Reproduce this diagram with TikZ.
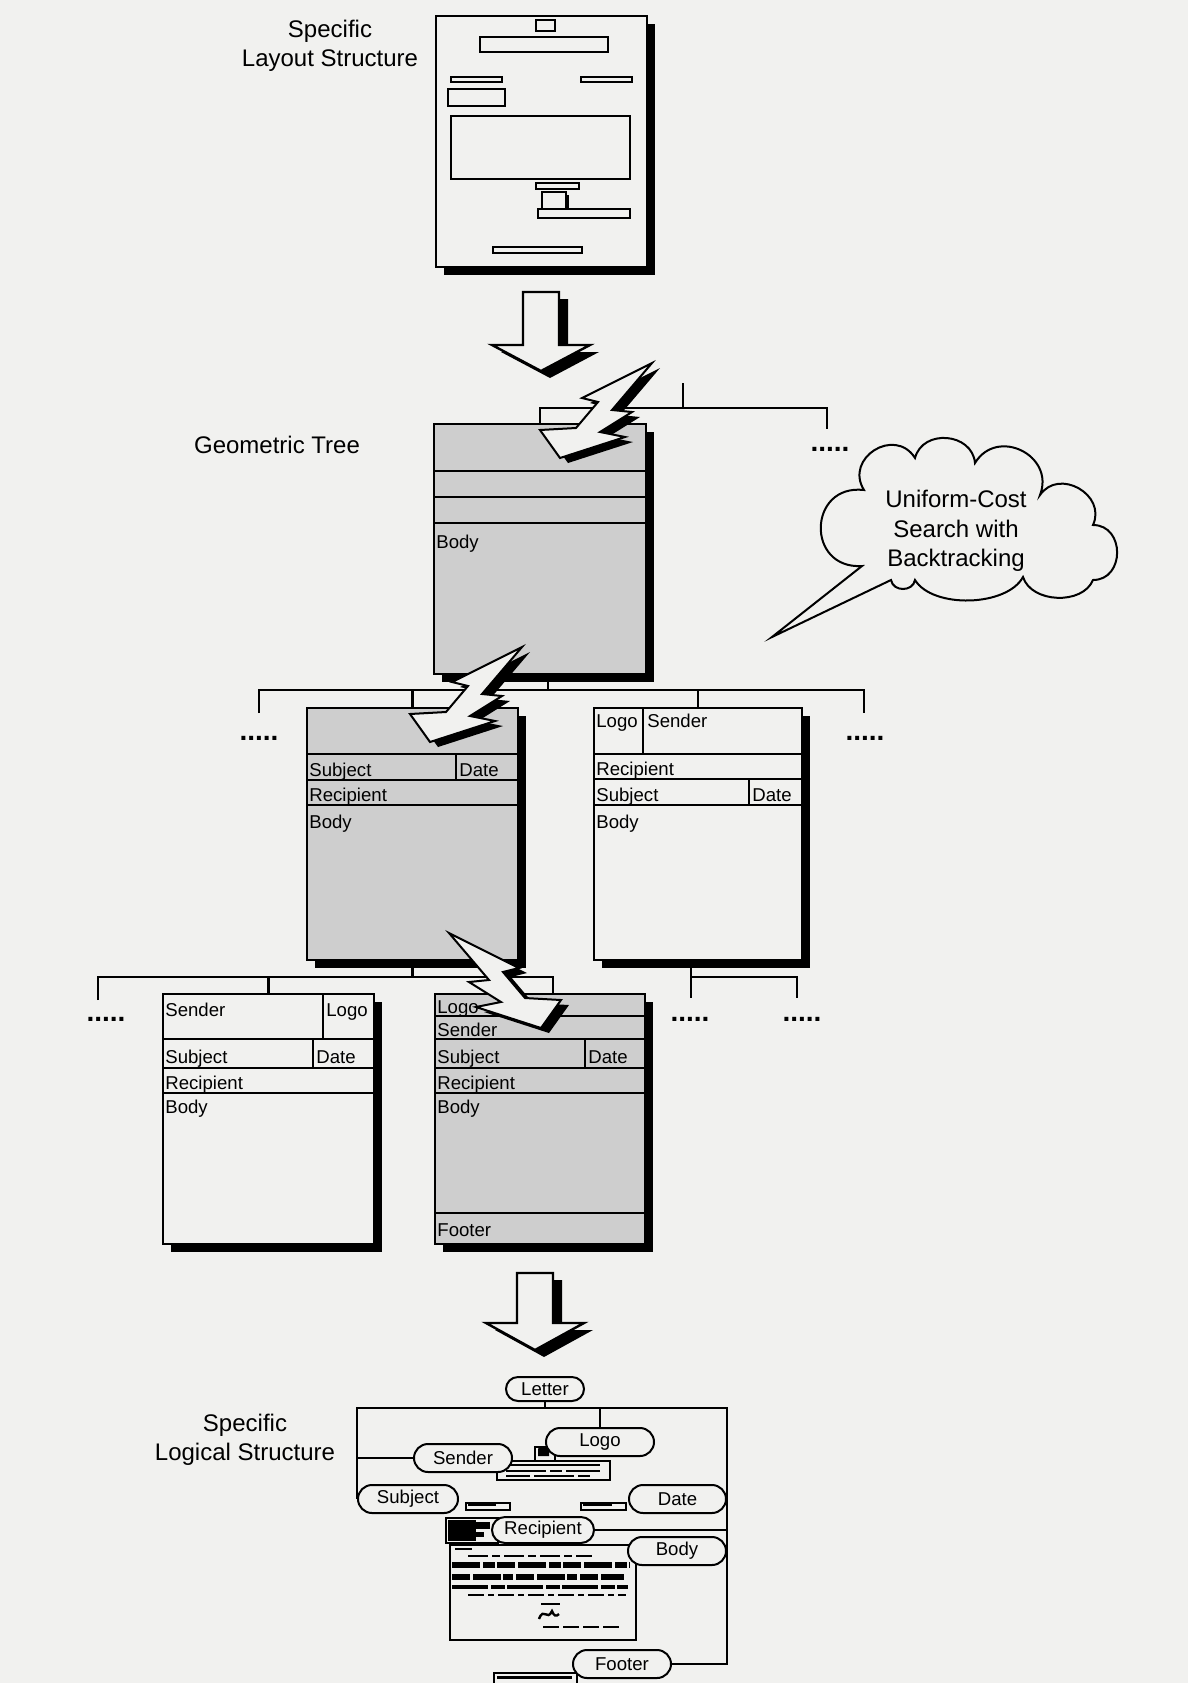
\documentclass[tikz,border=0pt]{standalone}
\usepackage{fontspec}
\setmainfont{Liberation Sans}
\usetikzlibrary{calc,shadows}
\definecolor{bg}{RGB}{241,241,239}
\definecolor{shade}{RGB}{206,206,206}
\newcommand{\boltshape}{(92,-95) -- (52,-48) -- (72,-46) -- (40,-26) -- (65,-21) -- (0,0) -- (-20,-28) -- (16,-30) -- (38,-56) -- (22,-60) -- cycle}
\begin{document}
\begin{tikzpicture}[x=0.5pt,y=-0.5pt,
  every node/.style={inner sep=0pt},
  docbox/.style={draw, line width=1pt, anchor=north west, fill=bg,
     general shadow={fill=black, shadow xshift=4pt, shadow yshift=-4pt}},
  shadedbox/.style={docbox, fill=shade},
  cell/.style={line width=1pt},
  lbl/.style={anchor=base west, font=\fontsize{9.3}{10}\selectfont},
  title/.style={align=center, font=\fontsize{12}{14.5}\selectfont},
  tree/.style={line width=1.4pt},
  ltree/.style={line width=1.2pt},
  dots/.style={anchor=base, font=\fontsize{14}{14}\selectfont\bfseries},
  bubble/.style={draw, line width=1pt, rounded corners=7pt, minimum height=14pt, fill=bg, font=\fontsize{9.3}{10}\selectfont},
  mini/.style={line width=0.6pt},
  inner/.style={line width=0.7pt},
  boltst/.style={fill=bg, draw=black, line width=1pt, line join=miter},
  arrowst/.style={fill=bg, draw=black, line width=1.2pt, line join=miter},
]
\fill[bg] (0,0) rectangle (1188,1683);
\useasboundingbox (0,0) rectangle (1188,1683);

% ---------- Specific layout structure ----------
\node[title] (tlayout) at (330,46) {Specific\\Layout Structure};
\node[docbox, minimum width=105.5pt, minimum height=125.5pt] (page) at (435,15) {};
\draw[inner] (536,20) rectangle (555,31);
\draw[inner] (480,37) rectangle (608,52);
\draw[inner] (451,77) rectangle (502,82);
\draw[inner] (581,77) rectangle (632,82);
\draw[inner] (448,89) rectangle (505,106);
\draw[inner] (451,116) rectangle (630,179);
\draw[inner] (536,183) rectangle (579,189);
\fill (545,195) rectangle (569,212);
\draw[inner, fill=bg] (542,192) rectangle (566,209);
\draw[inner, fill=bg] (538,209) rectangle (630,218);
\draw[inner] (493,247) rectangle (582,253);

% arrow 1
\fill (532,299) -- (568,299) -- (568,352) -- (599,352) -- (550,378) -- (501,352) -- (532,352) -- cycle;
\draw[arrowst] (523,292) -- (559,292) -- (559,345) -- (590,345) -- (541,371) -- (492,345) -- (523,345) -- cycle;

% ---------- Geometric tree ----------
\node[title] (tgeom) at (277,445) {Geometric Tree};

\node[shadedbox, minimum width=106pt, minimum height=125pt] (root) at (433,423) {};
\draw[cell] (433,471) -- (645,471);
\draw[cell] (433,497) -- (645,497);
\draw[cell] (433,523) -- (645,523);
\node[lbl] (rootbody) at (436,548) {Body};

\coordinate (j1) at (683,408);
\coordinate (j1top) at (683,383);
\coordinate (dAtop) at (827,429);
\draw[tree] (j1top) -- (j1);
\draw[tree] (root.north) |- (j1) -| (dAtop);
\node[dots] (dA) at (830,451) {.....};

% middle row
\node[shadedbox, minimum width=105.5pt, minimum height=126pt] (ml) at (306,707) {};
\node[docbox, minimum width=104pt, minimum height=126pt] (mr) at (593,707) {};

\coordinate (j2) at (548,690);
\coordinate (c2l) at (259,713);
\coordinate (c2r) at (864,713);
\draw[tree] (j2 |- root.south) -- (j2);
\draw[tree] (c2l) |- (j2) -| (c2r);
\draw[tree] (ml.north) -- (ml.north |- j2);
\draw[tree] (mr.north) -- (mr.north |- j2);
\node[dots] (d2l) at (259,740) {.....};
\node[dots] (d2r) at (865,740) {.....};

\draw[cell] (306,754) -- (517,754);
\draw[cell] (456,754) -- (456,780);
\draw[cell] (306,780) -- (517,780);
\draw[cell] (306,805) -- (517,805);
\node[lbl] (mlsubject) at (309,776) {Subject};
\node[lbl] (mldate) at (459,776) {Date};
\node[lbl] (mlrecipient) at (309,801) {Recipient};
\node[lbl] (mlbody) at (309,828) {Body};

\draw[cell] (643,707) -- (643,754);
\draw[cell] (593,754) -- (801,754);
\draw[cell] (593,779) -- (801,779);
\draw[cell] (749,779) -- (749,805);
\draw[cell] (593,805) -- (801,805);
\node[lbl] (mrlogo) at (596,727) {Logo};
\node[lbl] (mrsender) at (647,727) {Sender};
\node[lbl] (mrrecipient) at (596,775) {Recipient};
\node[lbl] (mrsubject) at (596,801) {Subject};
\node[lbl] (mrdate) at (752,801) {Date};
\node[lbl] (mrbody) at (596,828) {Body};

% bottom row
\node[docbox, minimum width=105.5pt, minimum height=125pt] (bl) at (162,993) {};
\node[shadedbox, minimum width=105pt, minimum height=125pt] (br) at (434,993) {};

\coordinate (j3) at (410,977);
\coordinate (c3l) at (98,1000);
\coordinate (c3r) at (553,993);
\draw[tree] (ml.south) -- (ml.south |- j3);
\draw[tree] (c3l) |- (j3) -| (c3r);
\draw[tree] (bl.north) -- (bl.north |- j3);

\coordinate (j4) at (691,977);
\coordinate (c4l) at (691,998);
\coordinate (c4r) at (797,998);
\draw[tree] (j4 |- mr.south) -- (c4l);
\draw[tree] (j4) -| (c4r);

\node[dots] (d3l) at (106,1021) {.....};
\node[dots] (d4l) at (690,1021) {.....};
\node[dots] (d4r) at (802,1021) {.....};

\draw[cell] (323,993) -- (323,1039);
\draw[cell] (162,1039) -- (373,1039);
\draw[cell] (313,1039) -- (313,1068);
\draw[cell] (162,1068) -- (373,1068);
\draw[cell] (162,1093) -- (373,1093);
\node[lbl] (blsender) at (165,1016) {Sender};
\node[lbl] (bllogo) at (326,1016) {Logo};
\node[lbl] (blsubject) at (165,1063) {Subject};
\node[lbl] (bldate) at (316,1063) {Date};
\node[lbl] (blrecipient) at (165,1089) {Recipient};
\node[lbl] (blbody) at (165,1113) {Body};

\draw[cell] (434,1016) -- (644,1016);
\draw[cell] (434,1039) -- (644,1039);
\draw[cell] (585,1039) -- (585,1068);
\draw[cell] (434,1068) -- (644,1068);
\draw[cell] (434,1093) -- (644,1093);
\draw[cell] (434,1213) -- (644,1213);
\node[lbl] (brlogo) at (437,1013) {Logo};
\node[lbl] (brsender) at (437,1036) {Sender};
\node[lbl] (brsubject) at (437,1063) {Subject};
\node[lbl] (brdate) at (588,1063) {Date};
\node[lbl] (brrecipient) at (437,1089) {Recipient};
\node[lbl] (brbody) at (437,1113) {Body};
\node[lbl] (brfooter) at (437,1236) {Footer};

% lightning bolts
\fill[shift={(568,463)}] \boltshape;
\draw[boltst, shift={(560,458)}] \boltshape;
\fill[shift={(438,747)}] \boltshape;
\draw[boltst, shift={(430,742)}] \boltshape;
\fill[shift={(549,1033)}, xscale=-1] \boltshape;
\draw[boltst, shift={(541,1028)}, xscale=-1] \boltshape;

% cloud
\draw[fill=bg, line width=1pt] (862,566) to[bend left=95, looseness=1.9] (864,490)
  to[bend left=90, looseness=1.6] (915,458) to[bend left=80, looseness=1.3] (975,463)
  to[bend left=85, looseness=1.5] (1040,495) to[bend left=85, looseness=1.4] (1093,525)
  to[bend left=90, looseness=1.5] (1093,580) to[bend left=70, looseness=1] (1023,577)
  to[bend left=60, looseness=0.8] (915,580) to[bend left=80, looseness=1.3] (891,580)
  -- (772,637) -- cycle;
\node[title, font=\fontsize{12}{14.75}\selectfont] (cloudtxt) at (956,531) {Uniform-Cost\\Search with\\Backtracking};

% arrow 2
\fill (526,1280) -- (562,1280) -- (562,1330) -- (593,1330) -- (544,1357) -- (495,1330) -- (526,1330) -- cycle;
\draw[arrowst] (517,1273) -- (553,1273) -- (553,1323) -- (584,1323) -- (535,1350) -- (486,1323) -- (517,1323) -- cycle;

% ---------- Specific logical structure ----------
\node[title] (tlogic) at (245,1440) {Specific\\Logical Structure};

% miniature letter
\draw[mini] (535,1447) rectangle (555,1461);
\fill (538,1449) .. controls (538,1445) and (548,1445) .. (549,1450) -- (549,1456) -- (538,1456) -- cycle;
\draw[mini] (497,1461) rectangle (610,1480);
\draw[line width=1.4pt] (503,1465) -- (600,1465);
\draw[line width=0.8pt, dash pattern=on 20pt off 2pt on 6pt off 2pt] (506,1471) -- (600,1471);
\draw[line width=0.8pt, dash pattern=on 12pt off 2pt on 20pt off 2pt] (506,1476) -- (590,1476);
\draw[mini] (466,1503) rectangle (510,1510);
\draw[line width=1.2pt] (468,1505) -- (496,1505);
\draw[mini] (581,1503) rectangle (626,1510);
\draw[line width=1.2pt] (583,1505) -- (612,1505);
\draw[mini] (446,1518) rectangle (498,1543);
\fill (448,1520) rectangle (476,1541);
\fill (476,1522) rectangle (490,1529);
\fill (476,1532) rectangle (484,1537);
\draw[mini] (450,1545) rectangle (636,1640);
\draw[line width=1.2pt] (455,1549) -- (472,1549);
\draw[line width=0.8pt, dash pattern=on 10pt off 2pt on 4pt off 2pt] (468,1556) -- (592,1556);
\draw[line width=3pt, dash pattern=on 14pt off 1.5pt on 6pt off 1pt on 9pt off 1.5pt] (452,1565) -- (630,1565);
\draw[line width=3pt, dash pattern=on 9pt off 1.5pt on 14pt off 1pt on 5pt off 1.5pt] (452,1577) -- (624,1577);
\draw[line width=2pt, dash pattern=on 18pt off 1.5pt on 7pt off 1pt] (452,1587) -- (628,1587);
\draw[line width=0.8pt, dash pattern=on 8pt off 2pt on 3pt off 2pt] (468,1595) -- (626,1595);
\draw[line width=0.8pt] (541,1604) -- (560,1604);
\draw[line width=1.2pt] (539,1619) .. controls (544,1606) and (547,1622) .. (552,1611) .. controls (554,1616) and (556,1617) .. (559,1614);
\draw[line width=0.8pt, dash pattern=on 8pt off 2pt] (543,1627) -- (620,1627);
\draw[mini] (494,1673) rectangle (577,1690);
\draw[line width=1.5pt] (497,1677) -- (572,1677);

% bubbles
\node[bubble, minimum width=39pt, minimum height=12pt, rounded corners=6pt] (letter) at (545,1389) {Letter};
\node[bubble, minimum width=54pt] (logo) at (600,1442) {Logo};
\node[bubble, minimum width=49pt] (sender) at (463,1458) {Sender};
\node[bubble, minimum width=50pt, anchor=west] (subject) at (357,1499) {Subject};
\node[bubble, minimum width=48.5pt, anchor=east] (date) at (727,1499) {Date};
\node[bubble, minimum width=51pt, minimum height=13pt, rounded corners=6.5pt] (recipient) at (543,1530) {Recipient};
\node[bubble, minimum width=49pt, anchor=east] (body) at (727,1551) {Body};
\node[bubble, minimum width=49pt] (footer) at (622,1664) {Footer};

\coordinate (ll) at (357,1408);
\coordinate (lr) at (727,1408);
\draw[ltree] (subject.west) -- (ll) -- (lr) |- (footer.east);
\draw[ltree] (letter.south) -- (letter.south |- ll);
\draw[ltree] (logo.north) -- (logo.north |- ll);
\draw[ltree] (sender.west) -- (sender.west -| ll);
\draw[ltree] (recipient.east) -- (recipient.east -| lr);
\end{tikzpicture}
\end{document}
